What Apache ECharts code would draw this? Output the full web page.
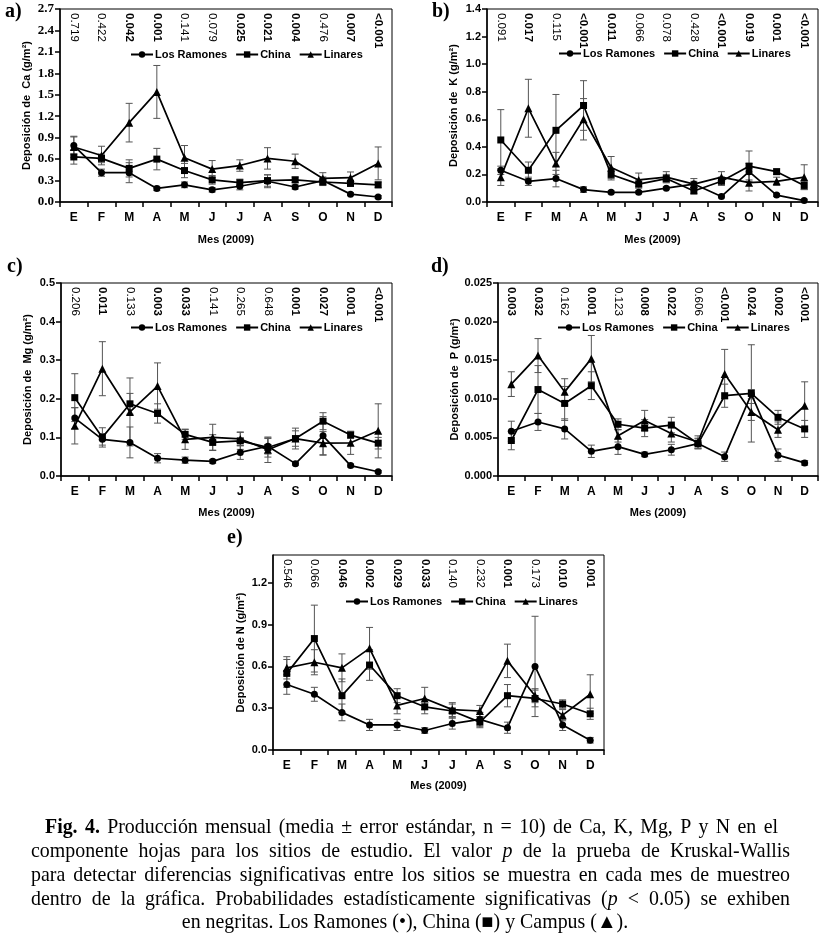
<!DOCTYPE html>
<html><head><meta charset="utf-8">
<script src="https://cdn.jsdelivr.net/npm/echarts@6/dist/echarts.min.js"></script>
<style>html,body{margin:0;padding:0;background:#fff}#c{width:822px;height:939px}</style>
</head><body><div id="c"></div><script>
// ---------------- DATA ----------------
const months = ['E','F','M','A','M','J','J','A','S','O','N','D'];
const sites = ['Los Ramones','China','Linares'];

// a) Ca
const caLR   = [0.79, 0.41, 0.41, 0.19, 0.24, 0.17, 0.22, 0.29, 0.21, 0.30, 0.11, 0.07];
const caCH   = [0.63, 0.61, 0.47, 0.60, 0.44, 0.31, 0.27, 0.30, 0.31, 0.28, 0.26, 0.24];
const caLI   = [0.77, 0.65, 1.11, 1.54, 0.62, 0.46, 0.51, 0.61, 0.57, 0.33, 0.34, 0.54];
const caLRse = [0.12, 0.05, 0.14, 0.03, 0.04, 0.03, 0.05, 0.09, 0.03, 0.05, 0.02, 0.02];
const caCHse = [0.10, 0.06, 0.12, 0.15, 0.10, 0.06, 0.05, 0.08, 0.04, 0.05, 0.04, 0.04];
const caLIse = [0.15, 0.13, 0.27, 0.37, 0.17, 0.12, 0.08, 0.15, 0.10, 0.08, 0.08, 0.23];
const caP    = ['0.719','0.422','0.042','0.001','0.141','0.079','0.025','0.021','0.004','0.476','0.007','<0.001'];

// b) K
const kLR   = [0.23, 0.15, 0.17, 0.09, 0.07, 0.07, 0.10, 0.13, 0.04, 0.22, 0.05, 0.01];
const kCH   = [0.45, 0.23, 0.52, 0.70, 0.20, 0.13, 0.17, 0.08, 0.15, 0.26, 0.22, 0.12];
const kLI   = [0.18, 0.68, 0.28, 0.60, 0.25, 0.16, 0.18, 0.13, 0.18, 0.14, 0.15, 0.18];
const kLRse = [0.03, 0.03, 0.06, 0.02, 0.01, 0.01, 0.01, 0.02, 0.01, 0.06, 0.01, 0.01];
const kCHse = [0.22, 0.06, 0.26, 0.18, 0.04, 0.03, 0.03, 0.02, 0.03, 0.11, 0.02, 0.03];
const kLIse = [0.06, 0.21, 0.08, 0.15, 0.08, 0.05, 0.04, 0.04, 0.04, 0.06, 0.03, 0.09];
const kP    = ['0.091','0.017','0.115','<0.001','0.011','0.066','0.078','0.428','<0.001','0.019','0.001','<0.001'];

// c) Mg
const mgLR   = [0.150, 0.095, 0.087, 0.046, 0.041, 0.038, 0.061, 0.077, 0.032, 0.104, 0.027, 0.011];
const mgCH   = [0.203, 0.100, 0.187, 0.162, 0.108, 0.087, 0.091, 0.074, 0.097, 0.142, 0.106, 0.085];
const mgLI   = [0.130, 0.278, 0.166, 0.233, 0.095, 0.100, 0.096, 0.068, 0.097, 0.085, 0.086, 0.117];
const mgLRse = [0.027, 0.015, 0.040, 0.012, 0.008, 0.005, 0.018, 0.020, 0.004, 0.050, 0.004, 0.003];
const mgCHse = [0.062, 0.025, 0.027, 0.025, 0.013, 0.020, 0.022, 0.025, 0.020, 0.022, 0.008, 0.015];
const mgLIse = [0.047, 0.070, 0.088, 0.060, 0.026, 0.034, 0.018, 0.033, 0.027, 0.030, 0.030, 0.070];
const mgP    = ['0.206','0.011','0.133','0.003','0.033','0.141','0.265','0.648','0.001','0.027','0.001','<0.001'];

// d) P
const pLR   = [0.0058, 0.0070, 0.0061, 0.0032, 0.0038, 0.0028, 0.0034, 0.0042, 0.0025, 0.0106, 0.0027, 0.0017];
const pCH   = [0.0046, 0.0112, 0.0094, 0.0117, 0.0067, 0.0062, 0.0066, 0.0042, 0.0104, 0.0107, 0.0076, 0.0061];
const pLI   = [0.0119, 0.0156, 0.0109, 0.0152, 0.0052, 0.0072, 0.0055, 0.0044, 0.0132, 0.0083, 0.0060, 0.0091];
const pLRse = [0.0013, 0.0011, 0.0013, 0.0008, 0.0010, 0.0003, 0.0007, 0.0006, 0.0006, 0.0006, 0.0008, 0.0003];
const pCHse = [0.0012, 0.0031, 0.0022, 0.0018, 0.0007, 0.0011, 0.0010, 0.0007, 0.0015, 0.0063, 0.0009, 0.0011];
const pLIse = [0.0016, 0.0022, 0.0017, 0.0030, 0.0008, 0.0013, 0.0011, 0.0008, 0.0032, 0.0011, 0.0010, 0.0031];
const pP    = ['0.003','0.032','0.162','0.001','0.123','0.008','0.022','0.606','<0.001','0.024','0.002','<0.001'];

// e) N
const nLR   = [0.47, 0.40, 0.27, 0.18, 0.18, 0.14, 0.19, 0.22, 0.16, 0.60, 0.18, 0.07];
const nCH   = [0.55, 0.80, 0.39, 0.61, 0.39, 0.31, 0.28, 0.20, 0.39, 0.37, 0.33, 0.26];
const nLI   = [0.59, 0.63, 0.59, 0.73, 0.32, 0.37, 0.29, 0.28, 0.64, 0.39, 0.25, 0.40];
const nLRse = [0.07, 0.05, 0.06, 0.04, 0.04, 0.02, 0.04, 0.05, 0.04, 0.36, 0.04, 0.02];
const nCHse = [0.10, 0.24, 0.12, 0.11, 0.05, 0.05, 0.05, 0.04, 0.08, 0.06, 0.03, 0.04];
const nLIse = [0.08, 0.09, 0.10, 0.15, 0.06, 0.08, 0.05, 0.04, 0.12, 0.05, 0.04, 0.14];
const nP    = ['0.546','0.066','0.046','0.002','0.029','0.033','0.140','0.232','0.001','0.173','0.010','0.001'];

const yNames = ['Deposición de  Ca (g/m²)','Deposición de  K (g/m²)','Deposición de  Mg (g/m²)','Deposición de  P (g/m²)','Deposición de N (g/m²)'];
const yMax = [2.7, 1.4, 0.5, 0.025, 1.4];
const yStep = [0.3, 0.2, 0.1, 0.005, 0.3];
const yDec = [1, 1, 1, 3, 1];
const panelLetters = ['a)','b)','c)','d)','e)'];
const xName = 'Mes (2009)';

const captionLines = [
  '**Fig. 4.** Producción mensual (media ± error estándar, n = 10) de Ca, K, Mg, P y N en el',
  'componente hojas para los sitios de estudio. El valor _p_ de la prueba de Kruskal-Wallis',
  'para detectar diferencias significativas entre los sitios se muestra en cada mes de muestreo',
  'dentro de la gráfica. Probabilidades estadísticamente significativas (_p_ < 0.05) se exhiben',
  'en negritas. Los Ramones (•), China (■) y Campus (▲).'
];

// ---------------- LAYOUT ----------------
const means = [[caLR,caCH,caLI],[kLR,kCH,kLI],[mgLR,mgCH,mgLI],[pLR,pCH,pLI],[nLR,nCH,nLI]];
const errs  = [[caLRse,caCHse,caLIse],[kLRse,kCHse,kLIse],[mgLRse,mgCHse,mgLIse],[pLRse,pCHse,pLIse],[nLRse,nCHse,nLIse]];
const pvals = [caP,kP,mgP,pP,nP];

const layout = [
  {grid:{left:60, top:9, width:332, height:193}, legend:{left:130, top:49}, nameGap:28, xGap:32, lblFont:'"Liberation Serif", serif', lblSize:13, letter:[5,12]},
  {grid:{left:487, top:9, width:331, height:193}, legend:{left:558, top:48}, nameGap:28, xGap:32, lblFont:'Arial, "Liberation Sans"', lblSize:11, letter:[432,12]},
  {grid:{left:61, top:283, width:331, height:193}, legend:{left:130, top:322}, nameGap:28, xGap:31, lblFont:'Arial, "Liberation Sans"', lblSize:11, letter:[7,267]},
  {grid:{left:498, top:283, width:320, height:193}, legend:{left:557, top:322}, nameGap:38, xGap:31, lblFont:'Arial, "Liberation Sans"', lblSize:11, letter:[431,267]},
  {grid:{left:273, top:555, width:331, height:195}, legend:{left:345, top:596}, nameGap:27, xGap:30, lblFont:'Arial, "Liberation Sans"', lblSize:11, letter:[227,538]}
];

const symbols = ['circle','rect','triangle'];
const symSizes = [7, 7, 8];
const sans = 'Arial, "Liberation Sans", sans-serif';

const isSig = v => parseFloat(String(v).replace('<','')) < 0.05;

const grids=[], xAxes=[], yAxes=[], series=[], legends=[], graphics=[];
layout.forEach((L, i) => {
  grids.push(Object.assign({show:true, borderColor:'#000', borderWidth:1, backgroundColor:'transparent'}, L.grid));
  xAxes.push({
    gridIndex:i, type:'category', data:months, position:'bottom', boundaryGap:true,
    axisLine:{show:true, lineStyle:{color:'#000', width:1.5}},
    axisTick:{show:true, length:5, lineStyle:{color:'#000', width:1.5}},
    axisLabel:{interval:0, color:'#000', fontWeight:'bold', fontSize:12, fontFamily:sans, margin:10},
    name:xName, nameLocation:'middle', nameGap:L.xGap,
    nameTextStyle:{color:'#000', fontWeight:'bold', fontSize:11, fontFamily:sans}
  });
  xAxes.push({
    gridIndex:i, type:'category', data:pvals[i], position:'top', boundaryGap:true,
    axisLine:{show:false}, axisTick:{show:false}, splitLine:{show:false},
    axisLabel:{interval:0, inside:true, rotate:90, margin:4, color:'#000',
      formatter: v => isSig(v) ? '{b|'+v+'}' : '{n|'+v+'}',
      rich:{b:{fontWeight:'bold', fontSize:11.5, fontFamily:sans, color:'#000'},
            n:{fontWeight:'normal', fontSize:11.5, fontFamily:sans, color:'#000'}}}
  });
  yAxes.push({
    gridIndex:i, type:'value', min:0, max:yMax[i], interval:yStep[i],
    axisLine:{show:true, lineStyle:{color:'#000', width:1.5}},
    axisTick:{show:true, length:5, lineStyle:{color:'#000', width:1.5}},
    splitLine:{show:false},
    axisLabel:{color:'#000', fontWeight:'bold', fontSize:L.lblSize, fontFamily:L.lblFont, margin:6,
      showMaxLabel: i===4 ? false : true,
      formatter: v => Number(v).toFixed(yDec[i])},
    name:yNames[i], nameLocation:'middle', nameGap:L.nameGap,
    nameTextStyle:{color:'#000', fontWeight:'bold', fontSize:11, fontFamily:sans}
  });
  sites.forEach((s, k) => {
    const m = means[i][k], e = errs[i][k];
    series.push({
      name:'se-'+i+'-'+k, type:'custom', xAxisIndex:2*i, yAxisIndex:i, z:1, clip:false,
      data: m.map((v, j) => [j, v, e[j]]),
      encode:{x:0, y:1},
      renderItem:(params, api) => {
        const x = api.value(0), v = api.value(1), d = api.value(2);
        const t = api.coord([x, v + d]), b = api.coord([x, Math.max(0, v - d)]);
        const w = 3.5, st = {stroke:'#555', lineWidth:1};
        return {type:'group', children:[
          {type:'line', shape:{x1:t[0], y1:t[1], x2:b[0], y2:b[1]}, style:st},
          {type:'line', shape:{x1:t[0]-w, y1:t[1], x2:t[0]+w, y2:t[1]}, style:st},
          {type:'line', shape:{x1:b[0]-w, y1:b[1], x2:b[0]+w, y2:b[1]}, style:st}
        ]};
      }
    });
    series.push({
      name:s, type:'line', xAxisIndex:2*i, yAxisIndex:i, z:3, data:m,
      symbol:symbols[k], symbolSize:symSizes[k], showAllSymbol:true,
      itemStyle:{color:'#000'}, lineStyle:{color:'#000', width:1.7}, color:'#000'
    });
  });
  legends.push({
    data:sites, left:L.legend.left, top:L.legend.top, orient:'horizontal',
    itemWidth:22, itemHeight:8, itemGap:8, selectedMode:false, padding:0,
    textStyle:{color:'#000', fontWeight:'bold', fontSize:11, fontFamily:sans, padding:[0,0,0,-3]}
  });
  graphics.push({type:'text', x:L.letter[0], y:L.letter[1], silent:true,
    style:{text:panelLetters[i], font:'bold 20px "Liberation Serif", serif', fill:'#000', verticalAlign:'middle', textVerticalAlign:'middle'}});
});

// ---------------- CAPTION (justified) ----------------
const capFam = '"Liberation Serif", "Times New Roman", serif';
const capSpec = [
  {x0:45, x1:778, y:828, mode:'justify'},
  {x0:31, x1:790, y:852, mode:'justify'},
  {x0:31, x1:790, y:876, mode:'justify'},
  {x0:31, x1:790, y:900, mode:'justify'},
  {cx:405, y:923, mode:'center', width:446}
];
const ctx = document.createElement('canvas').getContext('2d');
let capSize = 20;
const fontOf = sg => (sg.i ? 'italic ' : '') + (sg.b ? 'bold ' : '') + capSize + 'px ' + capFam;
function parseLine(s){
  let bold=false, ital=false; const words=[]; let cur=[]; let buf='';
  const flush=()=>{ if(buf){cur.push({t:buf,b:bold,i:ital}); buf='';} };
  for(let k=0;k<s.length;k++){
    if(s.startsWith('**',k)){flush(); bold=!bold; k++; continue;}
    if(s[k]==='_'){flush(); ital=!ital; continue;}
    if(s[k]===' '){flush(); if(cur.length) words.push(cur); cur=[]; continue;}
    buf+=s[k];
  }
  flush(); if(cur.length) words.push(cur);
  return words;
}
function measureWords(words){
  return words.map(w => w.reduce((a, sg) => { ctx.font = fontOf(sg); sg.w = ctx.measureText(sg.t).width; return a + sg.w; }, 0));
}
// fit font size so the centered last line has the reference width
{
  const w5 = parseLine(captionLines[4]);
  const ws = measureWords(w5); ctx.font = capSize + 'px ' + capFam;
  const nat = ws.reduce((a,b)=>a+b,0) + ctx.measureText(' ').width*(w5.length-1);
  capSize = Math.round(capSize * capSpec[4].width / nat * 10) / 10;
}
captionLines.forEach((line, li) => {
  const sp = capSpec[li];
  const words = parseLine(line);
  const widths = measureWords(words);
  const total = widths.reduce((a,b)=>a+b,0);
  ctx.font = capSize + 'px ' + capFam;
  let gap, x;
  if (sp.mode === 'justify') { gap = (sp.x1 - sp.x0 - total) / (words.length - 1); x = sp.x0; }
  else { gap = ctx.measureText(' ').width; x = sp.cx - (total + gap*(words.length-1))/2; }
  words.forEach((w, wi) => {
    let xx = x;
    w.forEach(sg => {
      graphics.push({type:'text', x:xx, y:sp.y, silent:true,
        style:{text:sg.t, font:fontOf(sg), fill:'#000', verticalAlign:'middle', textVerticalAlign:'middle'}});
      xx += sg.w;
    });
    x += widths[wi] + gap;
  });
});

const chart = echarts.init(document.getElementById('c'), null, {renderer:'canvas'});
chart.setOption({
  animation:false,
  backgroundColor:'#fff',
  grid:grids, xAxis:xAxes, yAxis:yAxes, series:series, legend:legends,
  graphic:{elements:graphics}
});
</script></body></html>
